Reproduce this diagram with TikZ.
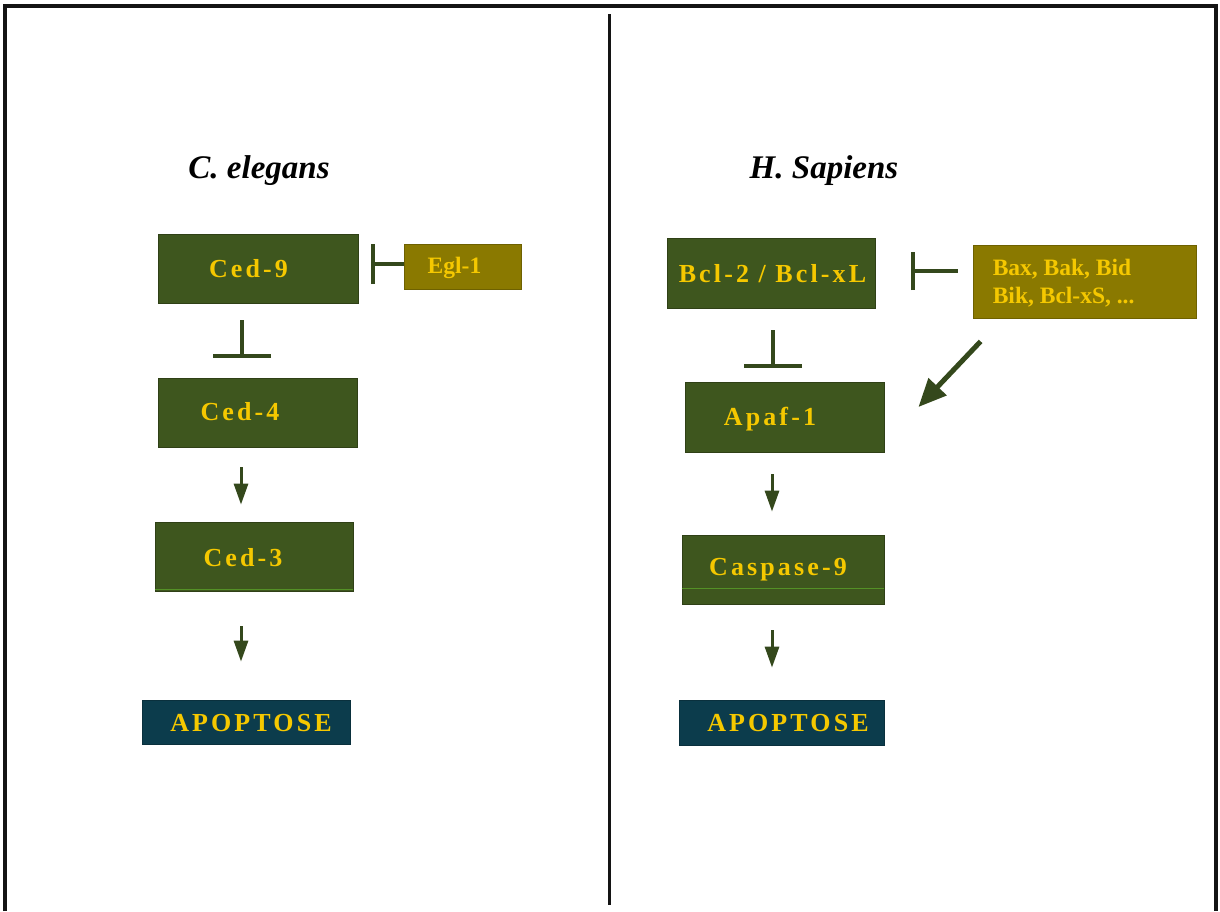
\documentclass[tikz,border=0pt]{standalone}
\usepackage{fontspec}
\setmainfont{Liberation Serif}
\newfontfamily\boxfont[LetterSpace=12]{Liberation Serif}
\usetikzlibrary{arrows.meta,calc}

\definecolor{leafbox}{RGB}{62,86,30}
\definecolor{olivebox}{RGB}{138,121,0}
\definecolor{tealbox}{RGB}{12,60,76}
\definecolor{goldtext}{RGB}{245,200,0}
\definecolor{linkcol}{RGB}{52,72,28}
\definecolor{stripecol}{RGB}{84,145,38}
\definecolor{framecol}{RGB}{20,20,20}

\begin{document}
\begin{tikzpicture}[x=1pt,y=-1pt,
  genebox/.style={fill=leafbox, draw=leafbox!75!black, line width=0.8pt, inner sep=0pt},
  promobox/.style={fill=olivebox, draw=olivebox!80!black, line width=0.8pt, inner sep=0pt},
  deathbox/.style={fill=tealbox, draw=tealbox!80!black, line width=0.8pt, inner sep=0pt},
  lbl/.style={text=goldtext, inner sep=0pt, font=\boxfont\bfseries\fontsize{26}{30}\selectfont},
  smalllbl/.style={text=goldtext, inner sep=0pt, align=left, font=\bfseries\fontsize{23.5}{27.5}\selectfont},
  title/.style={font=\bfseries\itshape\fontsize{33}{38}\selectfont, text=black},
  inhib/.style={draw=linkcol, line width=3.5pt, -{Bar[width=#1, line width=3.5pt]}},
  inhib/.default=40pt,
  act/.style={draw=linkcol, line width=3pt, -{Triangle[width=14pt,length=21pt]}},
  bigact/.style={draw=linkcol, line width=5pt, -{Triangle[width=24pt,length=28pt]}},
  stripe/.style={draw=stripecol, line width=1.2pt}
]
\useasboundingbox (0,0) rectangle (1220,911);

% frame and divider
\draw[framecol, line width=4pt] (5,911) -- (5,6) -- (1216,6) -- (1216,911);
\draw[framecol, line width=3pt] (609,14) -- (609,905);

% titles
\node[title, anchor=base] (celegans) at (259,178) {C. elegans};
\node[title, anchor=base] (hsapiens) at (824,178) {H. Sapiens};

% C. elegans pathway
\node[genebox, minimum width=200pt, minimum height=69pt,
      label={[lbl, xshift=-9.5pt, yshift=0pt]center:{Ced-9}}] (ced9) at (258,268.5) {};
\node[promobox, minimum width=117pt, minimum height=45pt,
      label={[smalllbl, xshift=-8pt, yshift=-1pt]center:{Egl-1}}] (egl) at (462.5,266.5) {};
\node[genebox, minimum width=199pt, minimum height=69pt,
      label={[lbl, xshift=-17.5pt, yshift=1pt]center:{Ced-4}}] (ced4) at (257.5,412.5) {};
\node[genebox, minimum width=198pt, minimum height=69pt,
      label={[lbl, xshift=-11pt, yshift=-1pt]center:{Ced-3}}] (ced3) at (254,556.5) {};
\node[deathbox, minimum width=208pt, minimum height=44pt,
      label={[lbl, xshift=5pt, yshift=-1pt]center:{APOPTOSE}}] (apopL) at (246,722) {};
\draw[stripe] ($(ced3.south west)+(0,-2)$) -- ($(ced3.south east)+(0,-2)$);

\draw[inhib] ($(egl.west)+(0,-2.5)$) -- ($(ced9.east |- egl.west)+(13,-2.5)$);
\draw[inhib=58pt] ($(ced9.south)+(-16,17)$) -- ($(ced4.north)+(-15.5,-20)$);
\draw[act] ($(ced4.south)+(-16.5,20)$) -- ($(ced3.north)+(-13,-17)$);
\draw[act] ($(ced3.south)+(-13,35)$) -- ($(apopL.north)+(-5,-38)$);

% H. sapiens pathway
\node[genebox, minimum width=208pt, minimum height=70pt,
      label={[lbl, xshift=1.5pt, yshift=-1pt]center:{Bcl-2 / Bcl-xL}}] (bcl) at (771,273) {};
\node[promobox, minimum width=223pt, minimum height=73pt,
      label={[smalllbl, anchor=west, xshift=20pt, yshift=-1.5pt]west:{Bax, Bak, Bid\\Bik, Bcl-xS, ...}}] (bax) at (1084.5,281.5) {};
\node[genebox, minimum width=199pt, minimum height=70pt,
      label={[lbl, xshift=-14.5pt, yshift=-2pt]center:{Apaf-1}}] (apaf) at (784.5,417) {};
\node[genebox, minimum width=202pt, minimum height=69pt,
      label={[lbl, xshift=-5pt, yshift=0pt]center:{Caspase-9}}] (casp) at (783,569.5) {};
\node[deathbox, minimum width=205pt, minimum height=45pt,
      label={[lbl, xshift=6.5pt, yshift=-1pt]center:{APOPTOSE}}] (apopR) at (781.5,722.5) {};
\draw[stripe] ($(casp.south west)+(0,-16)$) -- ($(casp.south east)+(0,-16)$);

\draw[inhib=38pt] ($(bax.west)+(-15,-10.5)$) -- ($(bcl.east)+(36,-2)$);
\draw[inhib=58pt] ($(bcl.south)+(2,22)$) -- ($(apaf.north)+(-11.5,-14)$);
\draw[bigact] ($(bax.south west)+(8,23)$) -- ($(apaf.east)+(34,-10)$);
\draw[act] ($(apaf.south)+(-12.5,22)$) -- ($(casp.north)+(-11,-23)$);
\draw[act] ($(casp.south)+(-11,26)$) -- ($(apopR.north)+(-9.5,-32)$);
\end{tikzpicture}
\end{document}
